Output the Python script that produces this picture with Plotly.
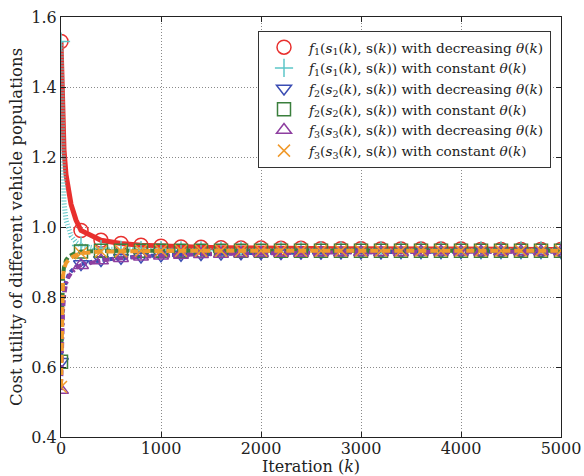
import plotly.graph_objects as go

# Iteration counts at which each curve is sampled
iterations = [0, 10, 20, 30, 50, 75, 100, 150,
              200, 400, 600, 800, 1000, 1200, 1400, 1600, 1800, 2000,
              2200, 2400, 2600, 2800, 3000, 3200, 3400, 3600, 3800, 4000,
              4200, 4400, 4600, 4800, 5000]

# f1 with decreasing theta(k)
f1_decreasing = [1.53, 1.38, 1.28, 1.22, 1.15, 1.10, 1.065, 1.02,
                 0.990, 0.962, 0.953, 0.948, 0.945, 0.943, 0.942, 0.941, 0.940, 0.940,
                 0.939, 0.939, 0.938, 0.938, 0.938, 0.937, 0.937, 0.937, 0.937, 0.937,
                 0.936, 0.936, 0.936, 0.936, 0.936]
# f1 with constant theta(k)
f1_constant = [1.53, 1.28, 1.13, 1.07, 1.02, 0.99, 0.975, 0.957,
               0.947, 0.937, 0.935, 0.934, 0.934, 0.933, 0.933, 0.933, 0.933, 0.933,
               0.933, 0.933, 0.933, 0.933, 0.933, 0.933, 0.933, 0.933, 0.933, 0.933,
               0.933, 0.933, 0.933, 0.933, 0.933]
# f2 with decreasing theta(k)
f2_decreasing = [0.615, 0.72, 0.785, 0.815, 0.845, 0.862, 0.873, 0.886,
                 0.894, 0.906, 0.912, 0.916, 0.919, 0.921, 0.923, 0.924, 0.925, 0.926,
                 0.926, 0.927, 0.927, 0.928, 0.928, 0.928, 0.929, 0.929, 0.929, 0.929,
                 0.930, 0.930, 0.930, 0.930, 0.930]
# f2 with constant theta(k)
f2_constant = [0.615, 0.80, 0.86, 0.885, 0.905, 0.915, 0.920, 0.927,
               0.930, 0.932, 0.932, 0.932, 0.932, 0.932, 0.932, 0.932, 0.932, 0.932,
               0.932, 0.932, 0.932, 0.932, 0.932, 0.932, 0.932, 0.932, 0.932, 0.932,
               0.932, 0.932, 0.932, 0.932, 0.932]
# f3 with decreasing theta(k)
f3_decreasing = [0.534, 0.68, 0.76, 0.80, 0.838, 0.857, 0.868, 0.882,
                 0.891, 0.904, 0.911, 0.915, 0.918, 0.920, 0.922, 0.923, 0.924, 0.925,
                 0.926, 0.926, 0.927, 0.927, 0.928, 0.928, 0.928, 0.929, 0.929, 0.929,
                 0.929, 0.930, 0.930, 0.930, 0.930]
# f3 with constant theta(k)
f3_constant = [0.543, 0.80, 0.86, 0.88, 0.897, 0.906, 0.912, 0.920,
               0.925, 0.930, 0.931, 0.932, 0.932, 0.932, 0.932, 0.932, 0.932, 0.932,
               0.932, 0.932, 0.932, 0.932, 0.932, 0.932, 0.932, 0.932, 0.932, 0.932,
               0.932, 0.932, 0.932, 0.932, 0.932]

legend_labels = [
    "<i>f</i><sub>1</sub>(<i>s</i><sub>1</sub>(<i>k</i>), s(<i>k</i>)) with decreasing <i>θ</i>(<i>k</i>)",
    "<i>f</i><sub>1</sub>(<i>s</i><sub>1</sub>(<i>k</i>), s(<i>k</i>)) with constant <i>θ</i>(<i>k</i>)",
    "<i>f</i><sub>2</sub>(<i>s</i><sub>2</sub>(<i>k</i>), s(<i>k</i>)) with decreasing <i>θ</i>(<i>k</i>)",
    "<i>f</i><sub>2</sub>(<i>s</i><sub>2</sub>(<i>k</i>), s(<i>k</i>)) with constant <i>θ</i>(<i>k</i>)",
    "<i>f</i><sub>3</sub>(<i>s</i><sub>3</sub>(<i>k</i>), s(<i>k</i>)) with decreasing <i>θ</i>(<i>k</i>)",
    "<i>f</i><sub>3</sub>(<i>s</i><sub>3</sub>(<i>k</i>), s(<i>k</i>)) with constant <i>θ</i>(<i>k</i>)",
]

x_ticks = [0, 1000, 2000, 3000, 4000, 5000]
y_ticks = [0.4, 0.6, 0.8, 1.0, 1.2, 1.4, 1.6]

series = [
    # values, colour, line width, dash, marker symbol, marker size
    (f1_decreasing, "#e8302e", 5, "solid", "circle-open", 14),
    (f1_constant, "#5cc6c8", 5, "1px,2px", "cross-thin-open", 13),
    (f2_decreasing, "#3b4db3", 4, "4px,3px", "triangle-down-open", 13),
    (f2_constant, "#3a7f3c", 4, "6px,3px", "square-open", 13),
    (f3_decreasing, "#8e3fa0", 4, "6px,3px,2px,3px", "triangle-up-open", 13),
    (f3_constant, "#f09a2c", 4, "8px,4px", "x-thin-open", 12),
]

marker_every = 200

fig = go.Figure()
for (vals, color, lw, dash, symbol, msize), label in zip(series, legend_labels):
    fig.add_trace(go.Scatter(
        x=iterations, y=vals, mode="lines",
        line=dict(color=color, width=lw, dash=dash),
        showlegend=False, hoverinfo="skip",
    ))
    mk_x = [k for k in iterations if k % marker_every == 0]
    mk_y = [v for k, v in zip(iterations, vals) if k % marker_every == 0]
    fig.add_trace(go.Scatter(
        x=mk_x, y=mk_y, mode="markers", name=label,
        marker=dict(symbol=symbol, size=msize, color=color,
                    line=dict(color=color, width=1.5)),
    ))

serif = "DejaVu Serif"
ink = "#222222"
axis_common = dict(
    showline=True, linecolor=ink, linewidth=1, mirror="ticks",
    ticks="inside", ticklen=5, tickcolor=ink, tickwidth=1,
    showgrid=True, gridcolor="#8a8a8a", griddash="1px,2px", gridwidth=1,
    zeroline=False, automargin=False,
    tickfont=dict(family=serif, size=16, color=ink),
)

fig.update_layout(
    width=584, height=476,
    margin=dict(l=61, r=23, t=17, b=39),
    paper_bgcolor="white", plot_bgcolor="white",
    xaxis=dict(range=[0, 5000], tickvals=x_ticks, ticklabelstandoff=-3, **axis_common,
               title=dict(text="Iteration (<i>k</i>)",
                          font=dict(family=serif, size=16, color=ink))),
    yaxis=dict(range=[0.4, 1.6], tickvals=y_ticks, tickformat=".1f", **axis_common,
               title=dict(text="Cost utility of different vehicle populations",
                          font=dict(family=serif, size=16.5, color=ink),
                          standoff=4)),
    legend=dict(
        x=0.394, y=0.967, xanchor="left", yanchor="top",
        bgcolor="white", bordercolor="#333333", borderwidth=1,
        itemwidth=40,
        font=dict(family=serif, size=13.6, color=ink),
    ),
)

fig.write_html("out.html")
